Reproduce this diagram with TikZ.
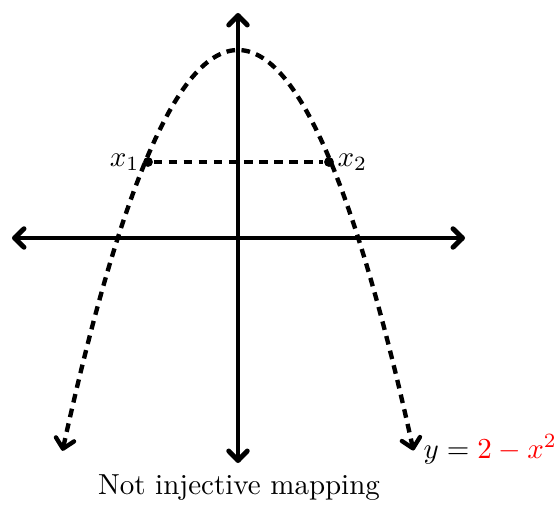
\documentclass[tikz,border=0pt]{standalone}
\usetikzlibrary{arrows.meta}
\begin{document}
\begin{tikzpicture}[x=0.345pt,y=-0.345pt,
  >={Straight Barb[round,length=3.3pt,width=6.4pt]},
  axis/.style={line width=1.7pt,<->},
  curve/.style={line width=1.5pt,dash pattern=on 3pt off 2.2pt,<->},
  dot/.style={circle,fill=black,inner sep=0pt,minimum size=3.4pt},
  lbl/.style={inner sep=0pt}]
\useasboundingbox (0,0) rectangle (558,504);
\coordinate (xl) at (12,238);
\coordinate (xr) at (465,238);
\coordinate (yt) at (238,13);
\coordinate (yb) at (238,463);
\draw[axis] (xl) -- (xr);
\draw[axis] (yt) -- (yb);
\draw[curve] plot[domain=-2.065:2.065,samples=120,smooth] ({238+85*\x},{238-94*(2-\x*\x)});
\node[dot] (p1) at (148,162) {};
\node[dot] (p2) at (329,162) {};
\draw[line width=1.5pt,dash pattern=on 3pt off 2.2pt] (p1) -- (p2);
\node[lbl,anchor=base east] (l1) at (140,166) {$x_1$};
\node[lbl,anchor=base west] (l2) at (337,166) {$x_2$};
\node[lbl,anchor=base west] (eq) at (423,458) {$y=\textcolor{red}{2-x^2}$};
\node[lbl,anchor=base] (cap) at (239,494) {Not injective mapping};
\end{tikzpicture}
\end{document}
